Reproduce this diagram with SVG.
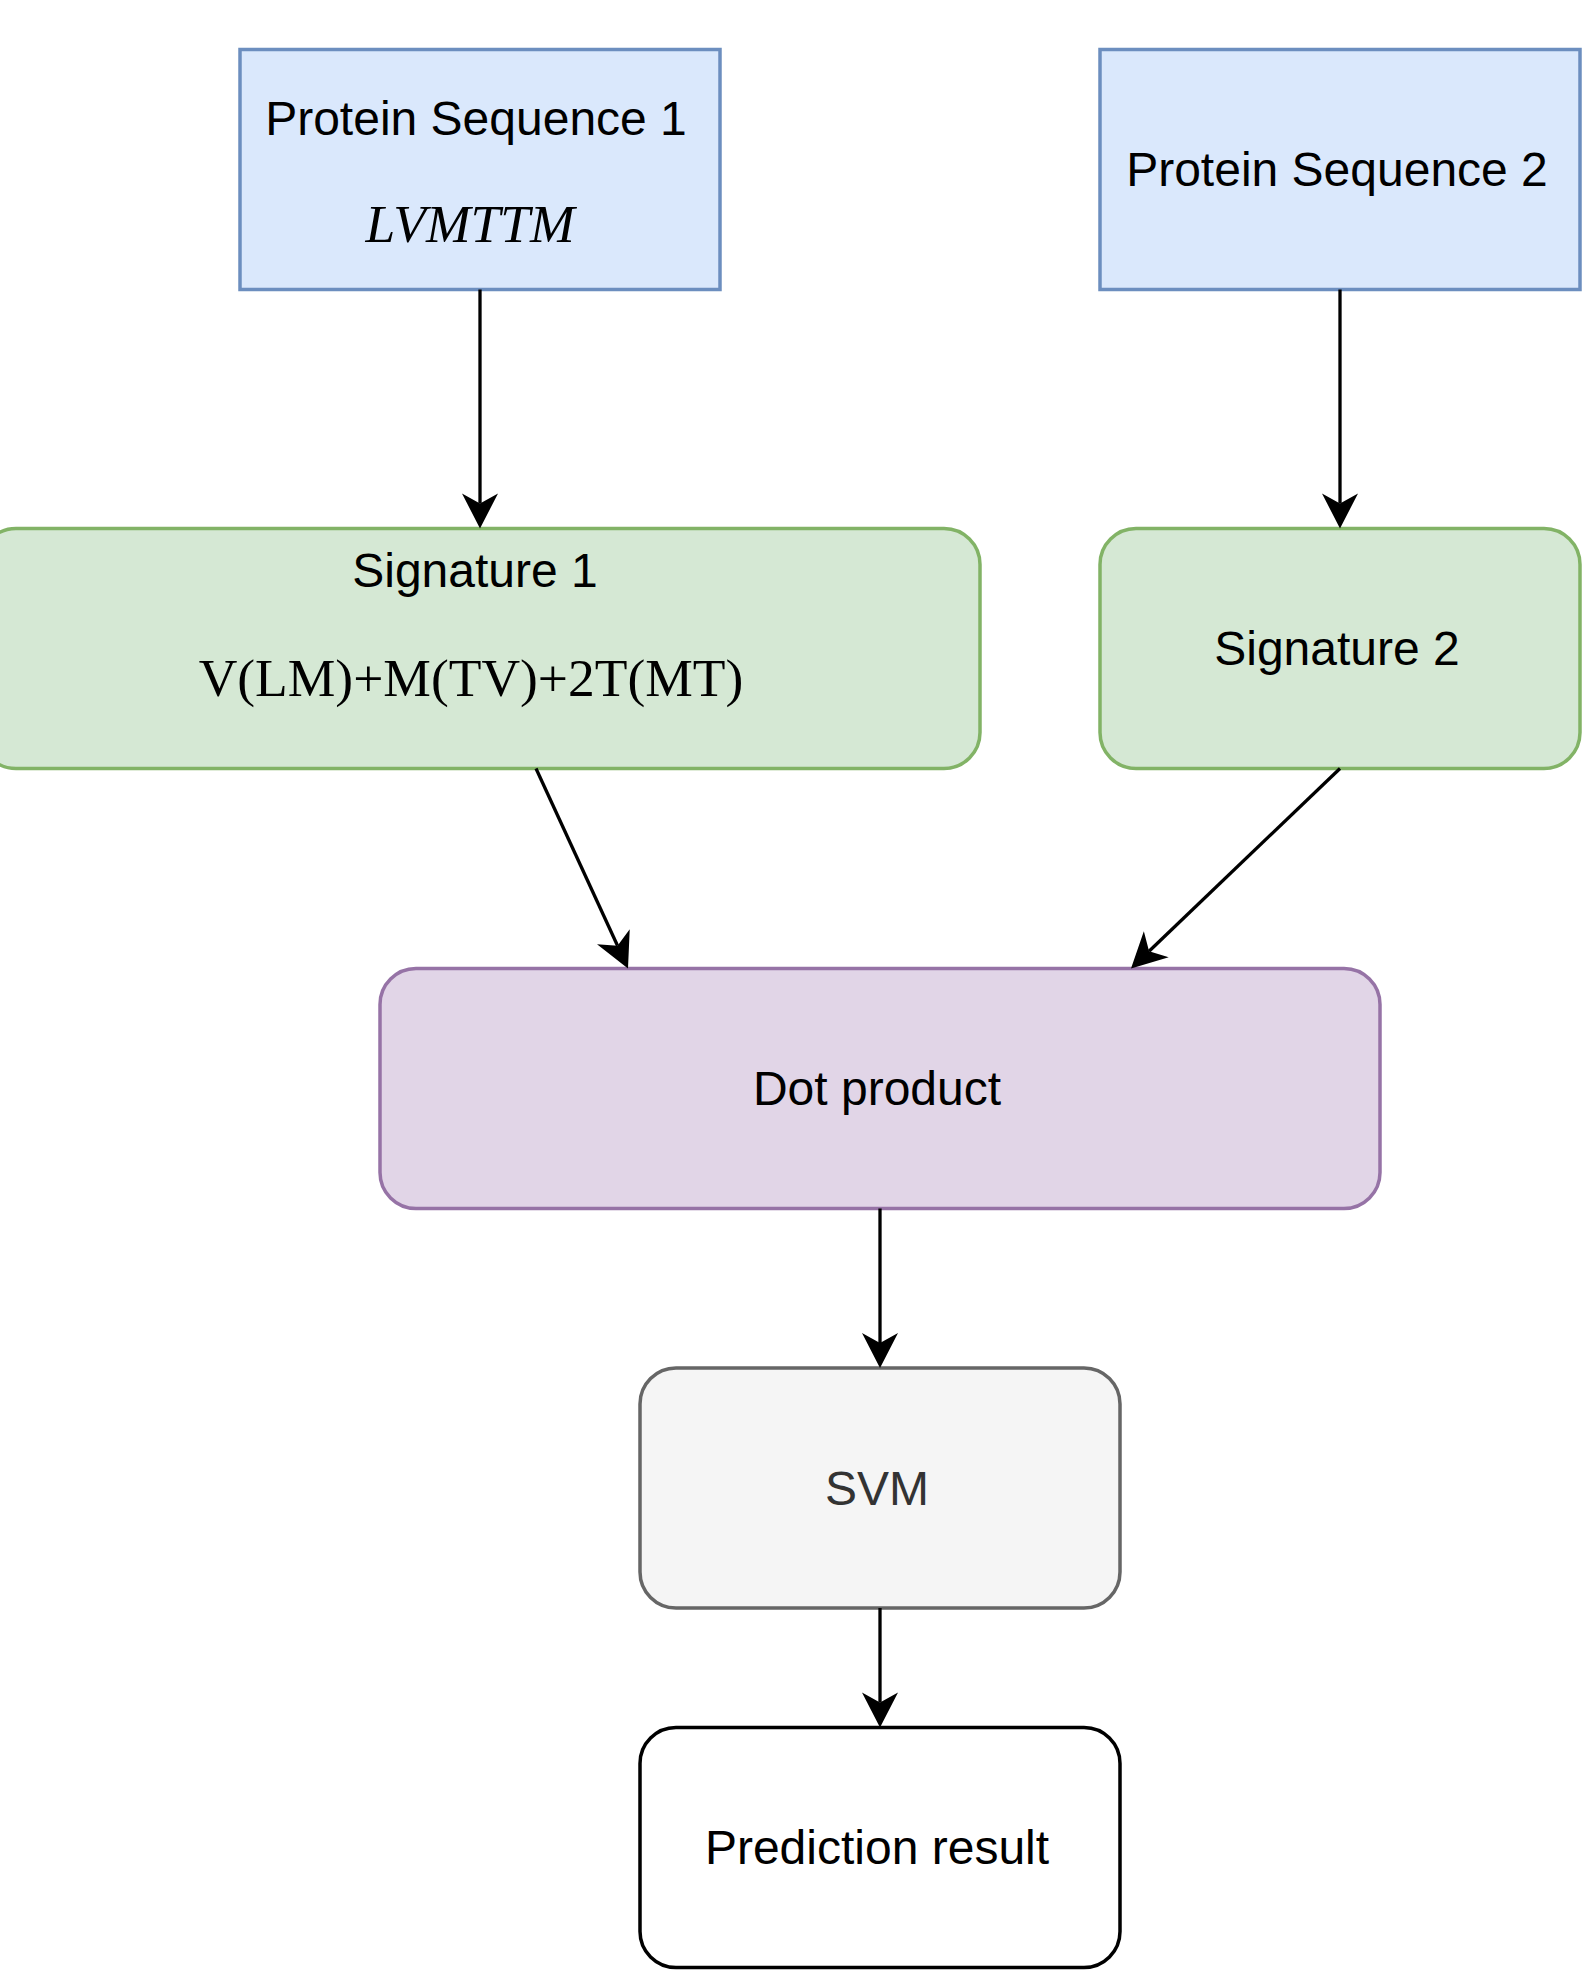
<svg xmlns="http://www.w3.org/2000/svg" width="1582" height="1971" viewBox="0 0 1582 1971">
  <style>
    .sans { font-family: "Liberation Sans", Arial, Helvetica, sans-serif; font-size: 48px; fill: #000000; text-anchor: middle; }
    .serif { font-family: "Liberation Serif", "Times New Roman", serif; font-size: 53.5px; fill: #000000; text-anchor: middle; }
    .blue { fill: #dae8fc; stroke: #6c8ebf; stroke-width: 3.5; }
    .green { fill: #d5e8d4; stroke: #82b366; stroke-width: 3.5; }
    .purple { fill: #e1d5e7; stroke: #9673a6; stroke-width: 3.5; }
    .grey { fill: #f5f5f5; stroke: #666666; stroke-width: 3.5; }
    .plain { fill: #ffffff; stroke: #000000; stroke-width: 3.5; }
    .edge { fill: none; stroke: #000000; stroke-width: 3.3; marker-end: url(#arrow); }
  </style>
  <defs>
    <marker id="arrow" markerUnits="userSpaceOnUse" markerWidth="40" markerHeight="40" viewBox="-38 -20 40 40" refX="-25" refY="0" orient="auto">
      <path d="M0,0 L-35,-18 L-25,0 L-35,18 Z" fill="#000000" stroke="none"/>
    </marker>
  </defs>
  <rect width="1582" height="1971" fill="#ffffff"/>

  <g id="protein-sequence-1">
    <rect class="blue" x="240" y="49.5" width="480" height="240"/>
    <text class="sans" x="476" y="135">Protein Sequence 1</text>
    <text class="serif" x="470" y="242" font-style="italic">LVMTTM</text>
  </g>

  <g id="protein-sequence-2">
    <rect class="blue" x="1100" y="49.5" width="480" height="240"/>
    <text class="sans" x="1337" y="186">Protein Sequence 2</text>
  </g>

  <g id="signature-1">
    <rect class="green" x="-20" y="528.5" width="1000" height="240" rx="36" ry="36"/>
    <text class="sans" x="475" y="587">Signature 1</text>
    <text class="serif" x="471" y="696">V(LM)+M(TV)+2T(MT)</text>
  </g>

  <g id="signature-2">
    <rect class="green" x="1100" y="528.5" width="480" height="240" rx="36" ry="36"/>
    <text class="sans" x="1337" y="665">Signature 2</text>
  </g>

  <g id="dot-product">
    <rect class="purple" x="380" y="968.5" width="1000" height="240" rx="36" ry="36"/>
    <text class="sans" x="877" y="1105">Dot product</text>
  </g>

  <g id="svm">
    <rect class="grey" x="640" y="1368" width="480" height="240" rx="36" ry="36"/>
    <text class="sans" x="877" y="1505" style="fill:#333333">SVM</text>
  </g>

  <g id="prediction-result">
    <rect class="plain" x="640" y="1727.5" width="480" height="240" rx="36" ry="36"/>
    <text class="sans" x="877" y="1864">Prediction result</text>
  </g>

  <g id="connectors">
    <line class="edge" x1="480" y1="289.5" x2="480" y2="503.5"/>
    <line class="edge" x1="1340" y1="289.5" x2="1340" y2="503.5"/>
    <line class="edge" x1="536" y1="768.5" x2="617.55" y2="945.8"/>
    <line class="edge" x1="1340" y1="768.5" x2="1149.06" y2="951.22"/>
    <line class="edge" x1="880" y1="1208.5" x2="880" y2="1343"/>
    <line class="edge" x1="880" y1="1608" x2="880" y2="1702.5"/>
  </g>
</svg>
